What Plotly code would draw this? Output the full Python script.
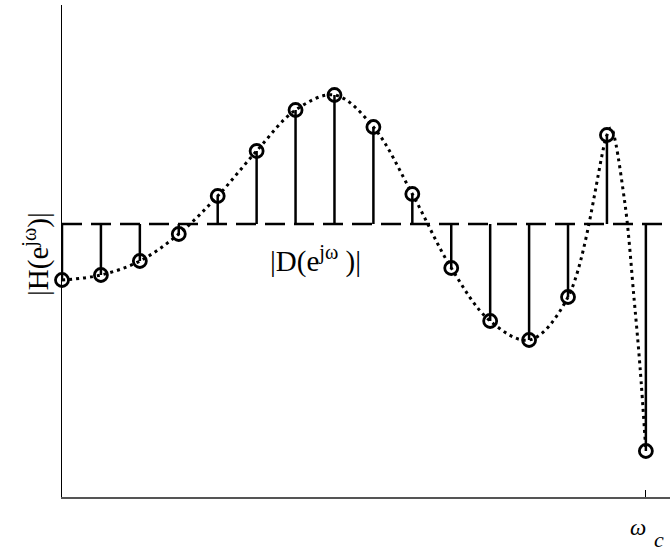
import plotly.graph_objects as go

# Sample index k (omega_c at the last sample)
k = list(range(16))
# Sampled filter response |H(e^jw)| at each k
h_samples = [2.17, 2.22, 2.36, 2.63, 3.01, 3.46, 3.87, 4.02, 3.70, 3.03,
             2.29, 1.76, 1.57, 2.00, 3.62, 0.46]
# Desired response level |D(e^jw)|
d_level = 2.73

# Continuous response (samples plus the
# extra points that describe the narrow peak next to omega_c)
curve_x = k[:15] + [14.1, 14.45, 14.7, 14.85] + [15]
curve_y = h_samples[:15] + [3.69, 2.97, 1.97, 1.30] + [h_samples[15]]

x_max = 15.62
y_max = 4.92

serif = "Liberation Serif, Times New Roman, serif"

fig = go.Figure()

# Dashed desired level
fig.add_trace(go.Scatter(
    x=[0, x_max], y=[d_level, d_level], mode="lines",
    line=dict(color="black", width=2.6, dash="20px,9px"),
    hoverinfo="skip", cliponaxis=False,
))

# Dotted continuous response
fig.add_trace(go.Scatter(
    x=curve_x, y=curve_y, mode="lines",
    line=dict(color="black", width=3, dash="3px,4px", shape="spline", smoothing=1),
    hoverinfo="skip", cliponaxis=False,
))

# Stems from the desired level to each sample
sx, sy = [], []
for xi, yi in zip(k, h_samples):
    sx += [xi, xi, None]
    sy += [d_level, yi, None]
fig.add_trace(go.Scatter(
    x=sx, y=sy, mode="lines",
    line=dict(color="black", width=2.5),
    hoverinfo="skip", cliponaxis=False,
))

# Sample markers
fig.add_trace(go.Scatter(
    x=k, y=h_samples, mode="markers",
    marker=dict(symbol="circle-open", size=13, color="black",
                line=dict(color="black", width=2.8)),
    cliponaxis=False,
))

label_font = dict(family=serif, size=29, color="black")

fig.update_layout(
    width=670, height=553,
    margin=dict(l=62, r=0, t=5, b=56),
    paper_bgcolor="white", plot_bgcolor="white",
    showlegend=False,
    font=dict(family=serif, color="black"),
    xaxis=dict(
        range=[0, x_max], showgrid=False, zeroline=False,
        showline=True, linecolor="#555555", linewidth=1.5,
        tickmode="array", tickvals=[15], ticks="inside", ticklen=7,
        tickwidth=1, tickcolor="black", showticklabels=False,
        fixedrange=True,
    ),
    yaxis=dict(
        range=[0, y_max], showgrid=False, zeroline=False,
        showline=True, linecolor="black", linewidth=1,
        showticklabels=False, ticks="", fixedrange=True,
    ),
    annotations=[
        dict(text="|H(e<sup>jω</sup>)|", xref="paper", yref="paper",
             x=(36 - 62) / 608, y=(497 - 254) / 492, textangle=-90,
             showarrow=False, font=label_font,
             xanchor="center", yanchor="middle"),
        dict(text="|D(e<sup>jω</sup> )|", xref="x", yref="y",
             x=6.52, y=2.38, showarrow=False, font=label_font,
             xanchor="center", yanchor="middle"),
        dict(text="<i>ω</i>", xref="paper", yref="paper",
             x=(638 - 62) / 608, y=(497 - 527) / 492, showarrow=False,
             font=dict(family=serif, size=23, color="black"),
             xanchor="center", yanchor="middle"),
        dict(text="<i>c</i>", xref="paper", yref="paper",
             x=(659 - 62) / 608, y=(497 - 553) / 492, showarrow=False,
             font=dict(family=serif, size=22, color="black"),
             xanchor="center", yanchor="bottom", borderpad=0),
    ],
)

fig.write_html("out.html")
